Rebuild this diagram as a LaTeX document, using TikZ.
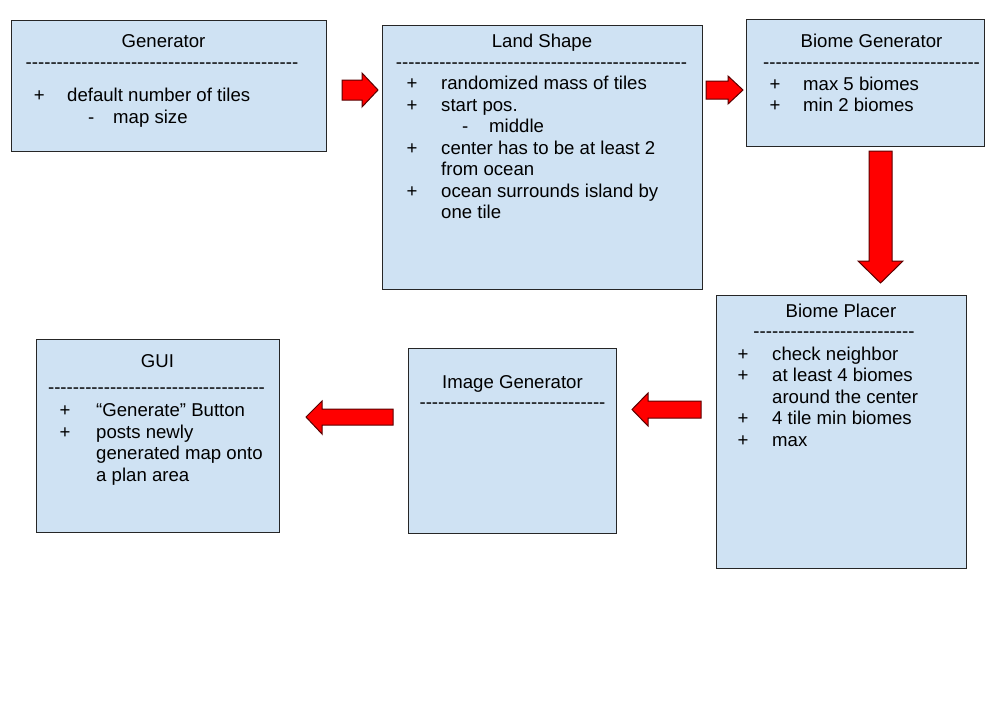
\documentclass[tikz,border=0pt]{standalone}
\usepackage{fontspec}
\setmainfont{Liberation Sans}[Ligatures=TeXOff]
\ExplSyntaxOn
\cs_new:Npn \dashrow #1 {\prg_replicate:nn{#1}{-\kern0pt}}
\ExplSyntaxOff
\definecolor{boxblue}{HTML}{CFE2F3}
\definecolor{arrowedge}{HTML}{5A0000}
\definecolor{inktext}{HTML}{000000}
\newcommand\fs{\fontsize{18.6}{21.5}\selectfont}
\tikzset{
  box/.style={draw=black!85, line width=0.9pt, fill=boxblue, inner sep=0pt, anchor=north west},
  t/.style={anchor=base west, inner sep=0pt, font=\fs, text=inktext},
  c/.style={anchor=base, inner sep=0pt, font=\fs, text=inktext},
  arr/.style={fill=red, draw=arrowedge, line width=1pt, line join=miter}
}
\begin{document}
\begin{tikzpicture}[x=1pt,y=-1pt]
\useasboundingbox (0,0) rectangle (994,721);
\fill[white] (0,0) rectangle (994,721);

% boxes
\node[box, minimum width=315, minimum height=131] (gen) at (11,20) {};
\node[box, minimum width=320, minimum height=264] (land) at (382,25) {};
\node[box, minimum width=238, minimum height=127] (bgen) at (746,19) {};
\node[box, minimum width=250, minimum height=273] (bpl) at (716,295) {};
\node[box, minimum width=208, minimum height=185] (img) at (408,348) {};
\node[box, minimum width=243, minimum height=193] (gui) at (36,339) {};

% Generator
\node[c] (genT) at (163.5,47) {Generator};
\node[c] (genD) at (162,68) {\dashrow{44}};
\node[t] (gen1p) at (33.6,101) {+};
\node[t] (gen1) at (67,101) {default number of tiles};
\node[t] (gen2m) at (88,123) {-};
\node[t] (gen2) at (113,123) {map size};

% Land Shape
\node[c] (landT) at (542,47) {Land Shape};
\node[c] (landD) at (541.5,68) {\dashrow{47}};
\node[t] (land1p) at (406.5,89.5) {+};
\node[t] (land1) at (441,89.5) {randomized mass of tiles};
\node[t] (land2p) at (406.5,111) {+};
\node[t] (land2) at (441,111) {start pos.};
\node[t] (land3m) at (462,132.5) {-};
\node[t] (land3) at (489,132.5) {middle};
\node[t] (land4p) at (406.5,154) {+};
\node[t] (land4) at (441,154) {center has to be at least 2};
\node[t] (land5) at (441,175.5) {from ocean};
\node[t] (land6p) at (406.5,197) {+};
\node[t] (land6) at (441,197) {ocean surrounds island by};
\node[t] (land7) at (441,218.5) {one tile};

% Biome Generator
\node[c] (bgenT) at (871.5,47) {Biome Generator};
\node[c] (bgenD) at (871.5,68) {\dashrow{35}};
\node[t] (bgen1p) at (769.5,90) {+};
\node[t] (bgen1) at (803,90) {max 5 biomes};
\node[t] (bgen2p) at (769.5,111.5) {+};
\node[t] (bgen2) at (803,111.5) {min 2 biomes};

% Biome Placer
\node[c] (bplT) at (841,317) {Biome Placer};
\node[c] (bplD) at (834,337) {\dashrow{26}};
\node[t] (bpl1p) at (737.5,360) {+};
\node[t] (bpl1) at (772,360) {check neighbor};
\node[t] (bpl2p) at (737.5,381.5) {+};
\node[t] (bpl2) at (772,381.5) {at least 4 biomes};
\node[t] (bpl3) at (772,403) {around the center};
\node[t] (bpl4p) at (737.5,424.5) {+};
\node[t] (bpl4) at (772,424.5) {4 tile min biomes};
\node[t] (bpl5p) at (737.5,446) {+};
\node[t] (bpl5) at (772,446) {max};

% Image Generator
\node[c] (imgT) at (512.5,388) {Image Generator};
\node[c] (imgD) at (512.5,408) {\dashrow{30}};

% GUI
\node[c] (guiT) at (157.5,367) {GUI};
\node[c] (guiD) at (156.5,393) {\dashrow{35}};
\node[t] (gui1p) at (59.5,416.5) {+};
\node[t] (gui1) at (96,416.5) {“Generate” Button};
\node[t] (gui2p) at (59.5,438) {+};
\node[t] (gui2) at (96,438) {posts newly};
\node[t] (gui3) at (96,459.5) {generated map onto};
\node[t] (gui4) at (96,481) {a plan area};

% block arrows
\draw[arr] (342,80) -- (362,80) -- (362,73) -- (378,90) -- (362,107) -- (362,100) -- (342,100) -- cycle;
\draw[arr] (706,81) -- (728,81) -- (728,76) -- (743,90) -- (728,104) -- (728,99) -- (706,99) -- cycle;
\draw[arr] (869,151) -- (892,151) -- (892,261) -- (903,261) -- (880.5,283) -- (858,261) -- (869,261) -- cycle;
\draw[arr] (701,401) -- (648,401) -- (648,393) -- (632,409.5) -- (648,426) -- (648,418) -- (701,418) -- cycle;
\draw[arr] (393,409) -- (322,409) -- (322,401) -- (306,417) -- (322,434) -- (322,425) -- (393,425) -- cycle;
\end{tikzpicture}
\end{document}
